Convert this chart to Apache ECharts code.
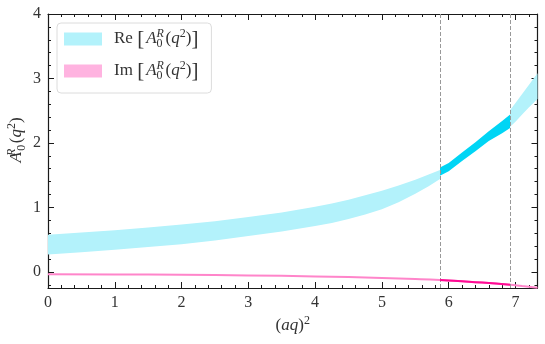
<!DOCTYPE html>
<html>
<head>
<meta charset="utf-8">
<script src="https://cdn.jsdelivr.net/npm/echarts@6/dist/echarts.min.js"></script>
<style>
  html, body { margin: 0; padding: 0; background: #fff; }
  #chart { width: 545px; height: 344px; }
</style>
</head>
<body>
<div id="chart"></div>
<script>
// axis ranges
const X_MAX = 7.33;
const Y_MIN = -0.25;
const Y_MAX = 4;

// vertical dashed lines
const thresholds = [5.87, 6.92];

// Re band, left part (light)
const reLeftX    = [0, 0.5, 1, 1.5, 2, 2.5, 3, 3.5, 4, 4.25, 4.5, 4.75, 5, 5.25, 5.5, 5.7, 5.87];
const reLeftHigh = [0.577, 0.61, 0.645, 0.69, 0.735, 0.785, 0.85, 0.92, 1.01, 1.06, 1.12, 1.19, 1.26, 1.34, 1.43, 1.51, 1.58];
const reLeftLow  = [0.27, 0.305, 0.345, 0.385, 0.43, 0.485, 0.555, 0.625, 0.71, 0.76, 0.82, 0.89, 0.97, 1.08, 1.21, 1.33, 1.44];

// Re band, between the dashed lines (dark)
const reMidX    = [5.87, 6.0, 6.2, 6.4, 6.6, 6.8, 6.92];
const reMidHigh = [1.62, 1.69, 1.85, 2.01, 2.18, 2.34, 2.44];
const reMidLow  = [1.49, 1.56, 1.72, 1.87, 2.03, 2.15, 2.23];

// Re band, right part (light)
const reRightX    = [6.92, 7.0, 7.1, 7.2, 7.33];
const reRightHigh = [2.51, 2.62, 2.76, 2.9, 3.08];
const reRightLow  = [2.25, 2.33, 2.44, 2.55, 2.68];

// Im (thin)
const imX = [0, 1, 2, 3, 4, 5, 5.5, 5.87, 6.2, 6.5, 6.92, 7.1, 7.33];
const imY = [-0.036, -0.04, -0.045, -0.055, -0.07, -0.095, -0.11, -0.125, -0.145, -0.165, -0.2, -0.22, -0.245];

const reLight = '#b3f2fb';
const reDark = '#00d5f5';
const imLight = '#ffb3e0';
const imLine = '#ff85ca';
const imDark = '#ff0a94';
const axisColor = '#1a1a1a';
const txt = '#333';
const serif = 'Liberation Serif';

const reSegments = [
  { x: reLeftX, lo: reLeftLow, hi: reLeftHigh },
  { x: reRightX, lo: reRightLow, hi: reRightHigh }
];

function bandPoints(api, xs, lo, hi) {
  const pts = [];
  for (let i = 0; i < xs.length; i++) pts.push(api.coord([xs[i], hi[i]]));
  for (let i = xs.length - 1; i >= 0; i--) pts.push(api.coord([xs[i], lo[i]]));
  return pts;
}

const rich = {
  rm:    { fontFamily: serif, fontSize: 17, color: txt, lineHeight: 22 },
  first: { fontFamily: serif, fontSize: 17, color: txt, lineHeight: 22, padding: [0, 1, 0, 7] },
  it:    { fontFamily: serif, fontSize: 17, color: txt, lineHeight: 22, fontStyle: 'italic' },
  br:    { fontFamily: serif, fontSize: 21, color: txt, lineHeight: 22, padding: [0, 2, 0, 0] },
  supR:  { fontFamily: serif, fontSize: 12, color: txt, lineHeight: 13, fontStyle: 'italic', verticalAlign: 'top', width: 0, align: 'left' },
  sub:   { fontFamily: serif, fontSize: 12, color: txt, lineHeight: 12, verticalAlign: 'bottom', width: 9, align: 'left' },
  sup:   { fontFamily: serif, fontSize: 12, color: txt, lineHeight: 13, verticalAlign: 'top' }
};

const ampl = '{it|A}{supR|R}{sub|0}{rm|(}{it|q}{sup|2}{rm|)}';

function majorX(pos, labels) {
  return {
    type: 'value', gridIndex: 0, position: pos, min: 0, max: X_MAX, interval: 1,
    axisLine: { show: true, onZero: false, lineStyle: { color: axisColor, width: 1.2 } },
    axisTick: { show: true, inside: true, length: 6, lineStyle: { color: axisColor, width: 1 } },
    axisLabel: { show: labels, showMaxLabel: false, fontFamily: serif, fontSize: 16, color: txt, margin: 7 },
    splitLine: { show: false }
  };
}
function minorX(pos) {
  return {
    type: 'value', gridIndex: 1, position: pos, min: 0, max: X_MAX, interval: 0.2,
    axisLine: { show: false, onZero: false },
    axisTick: { show: true, inside: true, length: 3, lineStyle: { color: axisColor, width: 1 } },
    axisLabel: { show: false }, splitLine: { show: false }
  };
}
function majorY(pos, labels) {
  return {
    type: 'value', gridIndex: 0, position: pos, min: Y_MIN, max: Y_MAX, splitNumber: 5,
    axisLine: { show: true, onZero: false, lineStyle: { color: axisColor, width: 1.2 } },
    axisTick: { show: true, inside: true, length: 6, lineStyle: { color: axisColor, width: 1 } },
    axisLabel: { show: labels, showMinLabel: false, fontFamily: serif, fontSize: 16, color: txt, margin: 7 },
    splitLine: { show: false }
  };
}
function minorY(pos) {
  return {
    type: 'value', gridIndex: 1, position: pos, min: Y_MIN, max: Y_MAX, splitNumber: 21,
    axisLine: { show: false, onZero: false },
    axisTick: { show: true, inside: true, length: 3, lineStyle: { color: axisColor, width: 1 } },
    axisLabel: { show: false }, splitLine: { show: false }
  };
}

const xBottom = majorX('bottom', true);
xBottom.name = '{rm|(}{it|aq}{rm|)}{sup|2}';
xBottom.nameLocation = 'middle';
xBottom.nameGap = 27;
xBottom.nameMoveOverlap = false;
xBottom.nameTextStyle = { rich: rich };

const yLeft = majorY('left', true);
yLeft.name = ampl;
yLeft.nameLocation = 'middle';
yLeft.nameRotate = 90;
yLeft.nameGap = 20;
yLeft.nameMoveOverlap = false;
yLeft.nameTextStyle = { rich: rich, padding: [0, 0, 0, 22] };

const imDarkData = imX.map((x, i) => [x, imY[i]]).filter(p => p[0] >= thresholds[0] && p[0] <= thresholds[1]);

const option = {
  animation: false,
  grid: [
    { left: 48, right: 7.5, top: 14, bottom: 56, show: false, outerBoundsMode: 'none' },
    { left: 48, right: 7.5, top: 14, bottom: 56, show: false }
  ],
  xAxis: [xBottom, majorX('top', false), minorX('bottom'), minorX('top')],
  yAxis: [yLeft, majorY('right', false), minorY('left'), minorY('right')],
  legend: {
    orient: 'vertical', left: 57, top: 23,
    itemWidth: 38, itemHeight: 13, itemGap: 10,
    padding: [5, 11, 11, 7],
    backgroundColor: '#fff', borderColor: '#dcdcdc', borderWidth: 1, borderRadius: 4,
    data: [
      { name: 'Re', icon: 'rect', itemStyle: { color: reLight, borderWidth: 0 } },
      { name: 'Im', icon: 'rect', itemStyle: { color: imLight, borderWidth: 0 } }
    ],
    formatter: function (name) {
      return '{first|' + name + '} {br|[}' + ampl + '{br|]}';
    },
    textStyle: { rich: rich }
  },
  series: [
    {
      name: 'Re', type: 'custom', xAxisIndex: 0, yAxisIndex: 0, clip: true,
      itemStyle: { color: reLight },
      data: [[0, 0], [1, 0]],
      renderItem: function (params, api) {
        const s = reSegments[params.dataIndex];
        return { type: 'polygon', shape: { points: bandPoints(api, s.x, s.lo, s.hi) }, style: { fill: reLight } };
      }
    },
    {
      name: 'Re (fit range)', type: 'custom', xAxisIndex: 0, yAxisIndex: 0, clip: true,
      itemStyle: { color: reDark },
      data: [[0, 0]],
      renderItem: function (params, api) {
        return { type: 'polygon', shape: { points: bandPoints(api, reMidX, reMidLow, reMidHigh) }, style: { fill: reDark } };
      }
    },
    {
      name: 'Im', type: 'line', xAxisIndex: 0, yAxisIndex: 0,
      data: imX.map((x, i) => [x, imY[i]]),
      smooth: true, showSymbol: false, symbol: 'none',
      itemStyle: { color: imLight },
      lineStyle: { color: imLine, width: 2 }
    },
    {
      name: 'Im (fit range)', type: 'line', xAxisIndex: 0, yAxisIndex: 0,
      data: imDarkData,
      smooth: true, showSymbol: false, symbol: 'none',
      lineStyle: { color: imDark, width: 2 },
      markLine: {
        silent: true, symbol: 'none', label: { show: false },
        lineStyle: { color: '#999', type: [4, 2], width: 1 },
        data: thresholds.map(v => ({ xAxis: v }))
      },
      z: 5
    }
  ]
};

const chart = echarts.init(document.getElementById('chart'));
chart.setOption(option);
</script>
</body>
</html>
